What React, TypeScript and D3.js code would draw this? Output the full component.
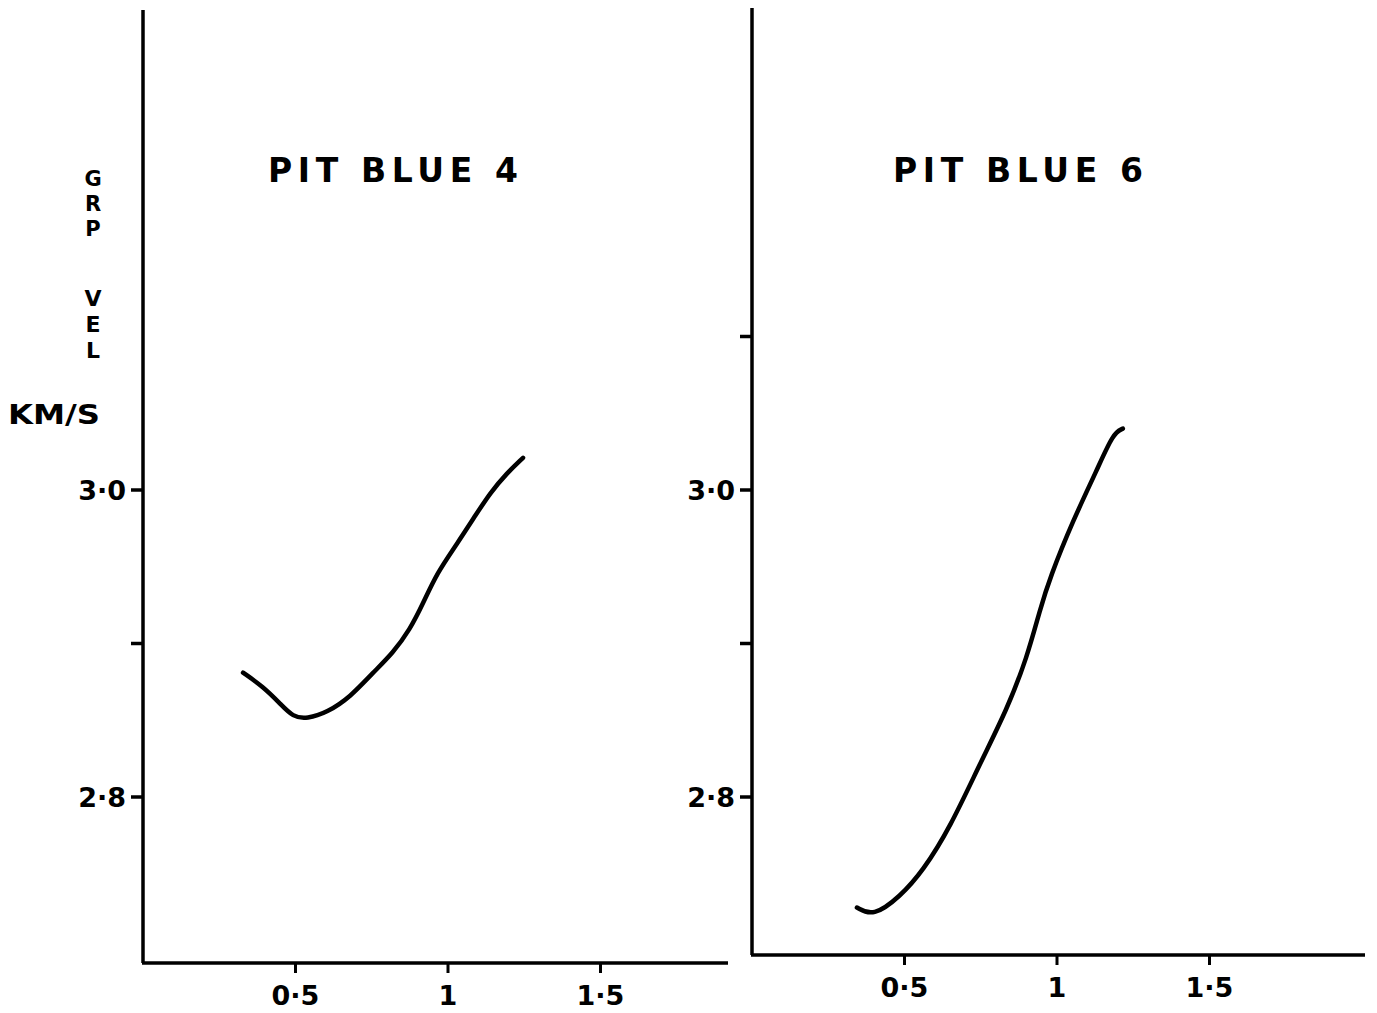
import React from "react";
import * as d3 from "d3";

// ---- data ----
const blue4Freq = [0.328, 0.393, 0.449, 0.492, 0.538, 0.603, 0.679, 0.754, 0.82, 0.875, 0.918, 0.964, 1.03, 1.095, 1.138, 1.193, 1.246];
const blue4Vel = [2.881, 2.872, 2.861, 2.852, 2.851, 2.855, 2.865, 2.881, 2.894, 2.909, 2.926, 2.946, 2.965, 2.985, 2.998, 3.011, 3.021];
const blue6Freq = [0.344, 0.397, 0.485, 0.561, 0.649, 0.748, 0.836, 0.902, 0.944, 0.977, 1.052, 1.131, 1.184, 1.216];
const blue6Vel = [2.728, 2.722, 2.735, 2.752, 2.78, 2.822, 2.857, 2.891, 2.922, 2.943, 2.98, 3.013, 3.037, 3.04];

const xTicks = [0.5, 1, 1.5];
const leftYTicks = [2.8, 2.9, 3.0];
const rightYTicks = [2.8, 2.9, 3.0, 3.1];
const labelledYTicks = [2.8, 3.0];
const titles = ["PIT BLUE 4", "PIT BLUE 6"];
const yLabelWords = ["GRP", "VEL"];
const yUnit = "KM/S";

const fmtX = (v: number) => (Number.isInteger(v) ? String(v) : v.toFixed(1).replace(".", "·"));
const fmtY = (v: number) => v.toFixed(1).replace(".", "·");

const FONT = "'DejaVu Sans', 'Liberation Sans', sans-serif";

type PanelProps = {
  freq: number[];
  vel: number[];
  yTicks: number[];
  title: string;
  x0: number;
  x1: number;
  yTop: number;
  yBottom: number;
  xMax: number;
  yMin: number;
  yMax: number;
  titleX: number;
};

function Panel(p: PanelProps) {
  const x = d3.scaleLinear().domain([0, p.xMax]).range([p.x0, p.x1]);
  const y = d3.scaleLinear().domain([p.yMin, p.yMax]).range([p.yBottom, p.yTop]);
  const pts = p.freq.map((f, i) => [f, p.vel[i]] as [number, number]);
  const line = d3
    .line<[number, number]>()
    .x((d) => x(d[0]))
    .y((d) => y(d[1]))
    .curve(d3.curveBasis);
  return (
    <g>
      <path d={line(pts) || ""} fill="none" stroke="#000" strokeWidth={4.5} strokeLinecap="round" strokeLinejoin="round" />
      <line x1={x(0)} x2={x(0)} y1={p.yTop} y2={p.yBottom} stroke="#000" strokeWidth={3.5} />
      <line x1={x(0) - 1} x2={p.x1} y1={p.yBottom} y2={p.yBottom} stroke="#000" strokeWidth={3.5} />
      {p.yTicks.map((t) => (
        <g key={"y" + t}>
          <line x1={x(0) - 12} x2={x(0)} y1={y(t)} y2={y(t)} stroke="#000" strokeWidth={3.5} />
          {labelledYTicks.includes(t) && (
            <text x={x(0) - 17} y={y(t) + 10} textAnchor="end" fontFamily={FONT} fontWeight="bold" fontSize={27}>
              {fmtY(t)}
            </text>
          )}
        </g>
      ))}
      {xTicks.map((t) => (
        <g key={"x" + t}>
          <line x1={x(t)} x2={x(t)} y1={p.yBottom} y2={p.yBottom + 10} stroke="#000" strokeWidth={3} />
          <text x={x(t)} y={p.yBottom + 42} textAnchor="middle" fontFamily={FONT} fontWeight="bold" fontSize={27}>
            {fmtX(t)}
          </text>
        </g>
      ))}
      <text x={p.titleX} y={182} fontFamily={FONT} fontWeight="bold" fontSize={33} textLength={250} lengthAdjust="spacing">
        {p.title}
      </text>
    </g>
  );
}

function StackedWord({ word, x, y, step, size }: { word: string; x: number; y: number; step: number; size: number }) {
  return (
    <g>
      {word.split("").map((c, i) => (
        <text key={i} x={x} y={y + i * step} textAnchor="middle" fontFamily={FONT} fontWeight="bold" fontSize={size}>
          {c}
        </text>
      ))}
    </g>
  );
}

export default function App() {
  return (
    <svg width={1377} height={1013} style={{ position: "absolute", left: 0, top: 0, background: "#fff" }}>
      <rect width={1377} height={1013} fill="#fff" />
      <Panel
        freq={blue4Freq}
        vel={blue4Vel}
        yTicks={leftYTicks}
        title={titles[0]}
        x0={143}
        x1={728}
        yTop={10}
        yBottom={963}
        xMax={(728 - 143) / 305}
        yMin={2.8 - (963 - 797) / 1535}
        yMax={3.0 + (490 - 10) / 1535}
        titleX={268}
      />
      <Panel
        freq={blue6Freq}
        vel={blue6Vel}
        yTicks={rightYTicks}
        title={titles[1]}
        x0={752}
        x1={1365}
        yTop={8}
        yBottom={955}
        xMax={(1365 - 752) / 305}
        yMin={2.8 - (955 - 797) / 1535}
        yMax={3.0 + (490 - 8) / 1535}
        titleX={893}
      />
      <StackedWord word={yLabelWords[0]} x={93} y={186} step={25} size={21} />
      <StackedWord word={yLabelWords[1]} x={93} y={306} step={26} size={22} />
      <text x={8} y={424} fontFamily={FONT} fontWeight="bold" fontSize={27} textLength={92} lengthAdjust="spacingAndGlyphs">
        {yUnit}
      </text>
    </svg>
  );
}
